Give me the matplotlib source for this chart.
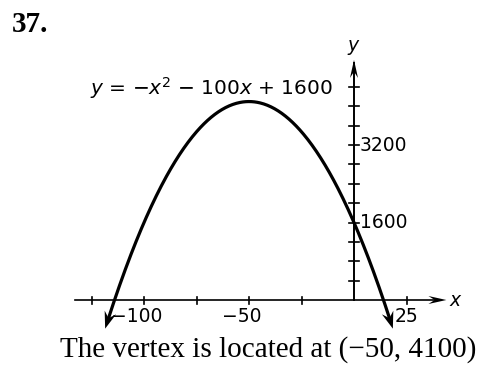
import matplotlib.pyplot as plt
import numpy as np
from matplotlib.patches import Polygon
from matplotlib.transforms import IdentityTransform

plt.rcParams['mathtext.fontset'] = 'dejavusans'

# y = a x^2 + b x + c
a, b, c = -1, -100, 1600
x_start, x_end = -118.5, 18.5

x_ticks = [-125, -100, -75, -50, -25, 25]
x_labels = {-100: '100', -50: '50', 25: '25'}
y_ticks = [400, 800, 1200, 1600, 2000, 2400, 2800, 3200, 3600, 4000, 4400]
y_labels = {1600: '1600', 3200: '3200'}

W, H = 480, 366
fig = plt.figure(figsize=(W / 100, H / 100), dpi=100)
ax = fig.add_axes([0, 0, 1, 1])
ax.set_axis_off()

# pixel scale of the grid (origin measured from the top-left corner)
px_x, x0 = 2.1, 354
px_y, y0 = 0.0484, 300
ax.set_xlim(-x0 / px_x, (W - x0) / px_x)
ax.set_ylim(-(H - y0) / px_y, y0 / px_y)


def stealth(tip, prev, length=17, width=12):
    t = ax.transData.transform(tip)
    p = ax.transData.transform(prev)
    d = (t - p) / np.hypot(*(t - p))
    n = np.array([-d[1], d[0]])
    pts = [t, t - length * d + width / 2 * n, t - 0.65 * length * d,
           t - length * d - width / 2 * n]
    ax.add_patch(Polygon(pts, closed=True, facecolor='black', edgecolor='black',
                         lw=0, transform=IdentityTransform(), zorder=5))


# axes
ax.plot([-133, 40], [0, 0], color='black', lw=1.2)
ax.plot([0, 0], [0, 4900], color='black', lw=1.4)
stealth((44, 0), (0, 0), length=18, width=8)
stealth((0, 4960), (0, 0), length=18, width=8)

for t in x_ticks:
    ax.plot([t, t], [-3.5 / px_y, 3.5 / px_y], color='black', lw=1.2)
for t in y_ticks:
    ax.plot([-5 / px_x, 5 / px_x], [t, t], color='black', lw=1.2)

for t, s in x_labels.items():
    off = -7 if t < 0 else 0
    ax.annotate(('\u2212' if t < 0 else '') + s, (t, 0), xytext=(off, -7),
                textcoords='offset pixels', ha='center', va='top', fontsize=13.5)
for t, s in y_labels.items():
    ax.annotate(s, (0, t), xytext=(6, 0), textcoords='offset pixels',
                ha='left', va='center', fontsize=13.5)

ax.text(449, H - 300, r'$x$', transform=IdentityTransform(),
        ha='left', va='center', fontsize=13.5)
ax.annotate(r'$y$', (0, 4960), xytext=(0, 3), textcoords='offset pixels',
            ha='center', va='bottom', fontsize=13.5)

# parabola
xs = np.linspace(x_start, x_end, 400)
ys = a * xs ** 2 + b * xs + c
ax.plot(xs[4:-4], ys[4:-4], color='black', lw=2.3, solid_capstyle='butt')
stealth((xs[0], ys[0]), (xs[8], ys[8]))
stealth((xs[-1], ys[-1]), (xs[-9], ys[-9]))

ax.text(211, H - 88, '$y$ = \u2212$x^2$ \u2212 100$x$ + 1600', transform=IdentityTransform(),
        ha='center', va='center', fontsize=14.5)

fig.text(12 / W, 1 - 32 / H, '37.', fontsize=21, fontweight='bold',
         family='Liberation Serif', va='baseline')
fig.text(60 / W, 1 - 357 / H, 'The vertex is located at (\u221250, 4100)',
         fontsize=21, family='Liberation Serif', va='baseline')

fig.savefig('out.png', dpi=100)
